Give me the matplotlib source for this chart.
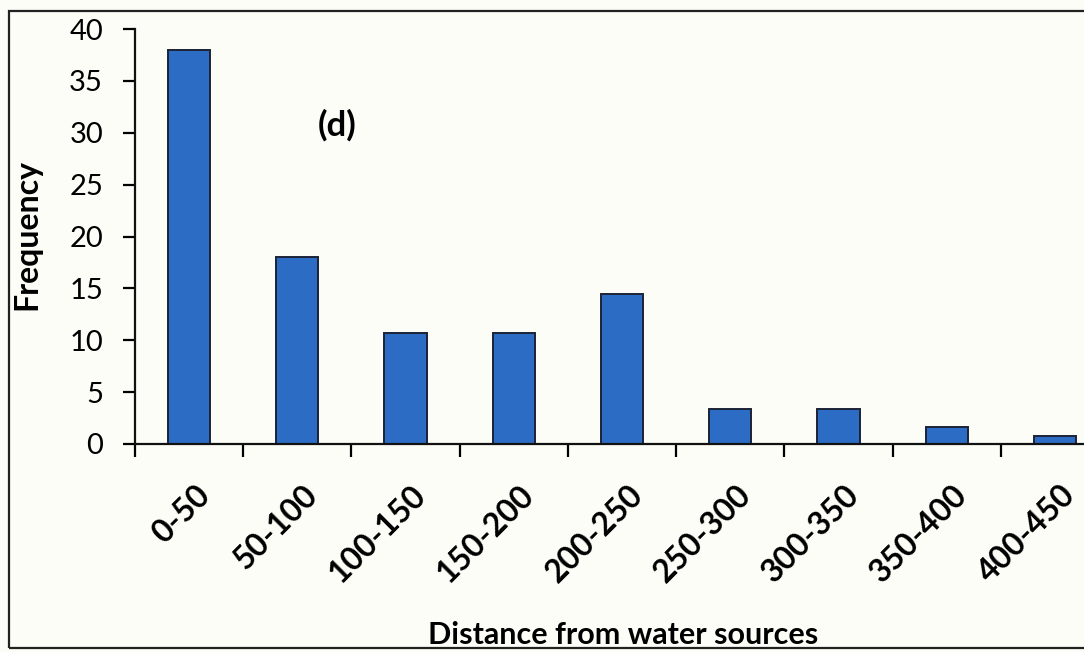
import matplotlib.pyplot as plt
from matplotlib.patches import Rectangle
from matplotlib.transforms import ScaledTranslation
import numpy as np

# Values
categories = ['0-50', '50-100', '100-150', '150-200', '200-250',
              '250-300', '300-350', '350-400', '400-450']
frequency = [38, 18, 10.7, 10.7, 14.5, 3.4, 3.4, 1.6, 0.8]
y_ticks = [0, 5, 10, 15, 20, 25, 30, 35, 40]

bg = '#fdfdf7'
bar_color = '#2c6cc4'
edge_color = '#1b2336'

plt.rcParams['font.family'] = ['Lato', 'DejaVu Sans']

fig = plt.figure(figsize=(10.84, 6.52), dpi=100, facecolor=bg)

# Outer chart frame (runs off the right edge, as in the photo)
fig.patches.append(Rectangle((9 / 1084, 1 - 648 / 652), 1.2, (648 - 11) / 652,
                             transform=fig.transFigure, fill=False,
                             edgecolor='#222222', linewidth=1.6))

# Plot area also extends past the right edge of the figure
ax = fig.add_axes([135 / 1084, 1 - 444 / 652, (1109 - 135) / 1084, (444 - 29) / 652])
ax.set_facecolor(bg)

x = np.arange(len(categories))
ax.bar(x, frequency, width=0.39, color=bar_color, edgecolor=edge_color, linewidth=1.4)

ax.set_xlim(-0.5, len(categories) - 0.5)
ax.set_ylim(0, 40)
ax.set_yticks(y_ticks)
ax.set_yticklabels([str(v) for v in y_ticks], fontsize=21)

# Category labels at bar centres, tick marks between categories
ax.set_xticks(x)
ax.set_xticklabels(categories, rotation=45, ha='right', va='top',
                   rotation_mode='anchor', fontsize=23, fontweight='bold')
ax.set_xticks(np.arange(len(categories) + 1) - 0.5, minor=True)
ax.tick_params(axis='x', which='major', length=0, pad=26)
ax.tick_params(axis='x', which='minor', length=9, width=1.6, direction='out')
ax.tick_params(axis='y', length=9, width=1.6, direction='out', pad=14)
offset = ScaledTranslation(4 / 72, 0, fig.dpi_scale_trans)
for lbl in ax.get_xticklabels():
    lbl.set_transform(lbl.get_transform() + offset)

for side in ['top', 'right']:
    ax.spines[side].set_visible(False)
for side in ['left', 'bottom']:
    ax.spines[side].set_linewidth(1.6)
    ax.spines[side].set_color('#111111')

fig.text(27 / 1084, 1 - 235 / 652, 'Frequency', rotation=90,
         ha='center', va='center', fontsize=23, fontweight='bold')
fig.text(623 / 1084, 1 - 635 / 652, 'Distance from water sources',
         ha='center', va='center', fontsize=22, fontweight='bold')

ax.text(1.37, 30.7, '(d)', ha='center', va='center', fontsize=25, fontweight='bold')

fig.savefig('out.png', dpi=100, facecolor=bg)
